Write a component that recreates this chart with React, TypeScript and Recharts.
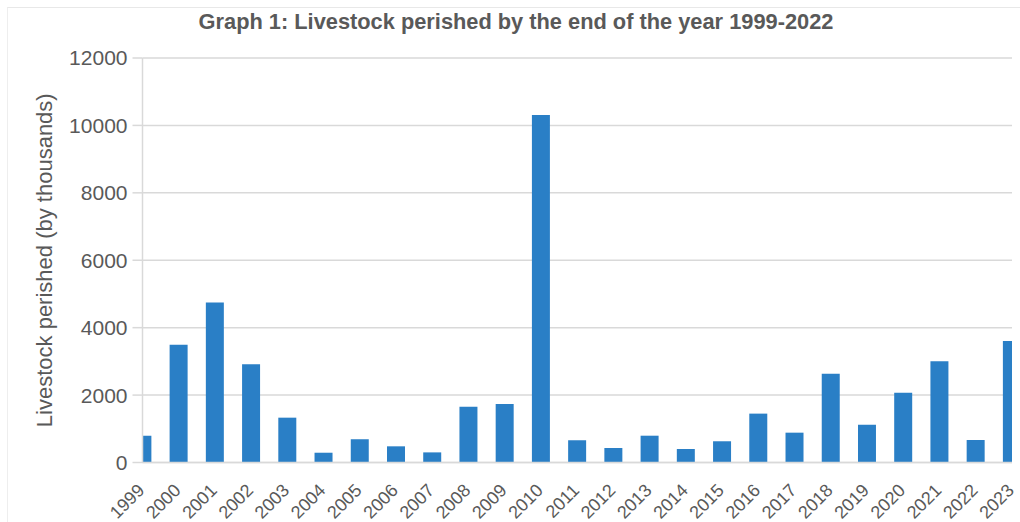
import React from 'react';
import { BarChart, Bar, XAxis, YAxis, CartesianGrid, Label } from 'recharts';

// Livestock perished per year, in thousands
const years = [
  1999, 2000, 2001, 2002, 2003, 2004, 2005, 2006, 2007, 2008, 2009, 2010,
  2011, 2012, 2013, 2014, 2015, 2016, 2017, 2018, 2019, 2020, 2021, 2022, 2023,
];
const perished = [
  790, 3490, 4750, 2915, 1330, 290, 690, 480, 300, 1655, 1735, 10310,
  660, 430, 795, 400, 630, 1450, 885, 2635, 1120, 2070, 3005, 667, 3605,
];
const yTicks = [0, 2000, 4000, 6000, 8000, 10000, 12000];

const titleText = 'Graph 1: Livestock perished by the end of the year 1999-2022';
const yAxisTitle = 'Livestock perished (by thousands)';

const data = years.map((year, i) => ({ year, value: perished[i] }));

const FONT = '"Liberation Sans", Arial, sans-serif';
const TEXT = '#595959';
const GRID = '#d9d9d9';
const BAR = '#2a7fc6';

const YAxisTitle = (props: any) => {
  const vb = props.viewBox || { x: 0, y: 0, width: 0, height: 0 };
  const x = vb.x + 52;
  const y = vb.y + vb.height / 2;
  return (
    <text
      x={x}
      y={y}
      transform={`rotate(-90, ${x}, ${y})`}
      textAnchor="middle"
      fill={TEXT}
      fontSize={22}
      fontFamily={FONT}
    >
      {yAxisTitle}
    </text>
  );
};

export default function App() {
  return (
    <div style={{ position: 'absolute', left: 0, top: 0, width: 1020, height: 522, background: '#fff' }}>
      <div
        style={{
          position: 'absolute',
          left: 7,
          top: 7,
          width: 1013,
          height: 515,
          borderTop: '1px solid #e8e8e8',
          borderLeft: '1px solid #eeeeee',
          boxSizing: 'border-box',
        }}
      />
      <svg width={1020} height={40} style={{ position: 'absolute', left: 0, top: 0 }}>
        <text x={516} y={28.5} textAnchor="middle" fill={TEXT} fontSize={21.8} fontWeight="bold" fontFamily={FONT}>
          {titleText}
        </text>
      </svg>
      <div style={{ position: 'absolute', left: 0, top: 0 }}>
        <BarChart width={1020} height={522} data={data} margin={{ top: 58, right: 8, bottom: 0, left: 0 }}>
          <CartesianGrid vertical={false} stroke={GRID} strokeWidth={1.5} />
          <XAxis
            type="number"
            dataKey="year"
            domain={[1999, 2023]}
            ticks={years}
            interval={0}
            allowDataOverflow
            height={59.5}
            tickLine={false}
            tickSize={0}
            tickMargin={20}
            angle={-45}
            textAnchor="end"
            axisLine={{ stroke: GRID, strokeWidth: 1.5 }}
            tick={{ fill: TEXT, fontSize: 18, fontFamily: FONT, dx: -6 }}
          />
          <YAxis
            type="number"
            domain={[0, 12000]}
            ticks={yTicks}
            width={142.5}
            tickSize={10}
            tickMargin={5}
            tickLine={{ stroke: GRID, strokeWidth: 1.5 }}
            axisLine={{ stroke: GRID, strokeWidth: 1.5 }}
            tick={{ fill: TEXT, fontSize: 21, fontFamily: FONT }}
          >
            <Label content={YAxisTitle} />
          </YAxis>
          <Bar dataKey="value" fill={BAR} barSize={18} isAnimationActive={false} />
        </BarChart>
      </div>
    </div>
  );
}
